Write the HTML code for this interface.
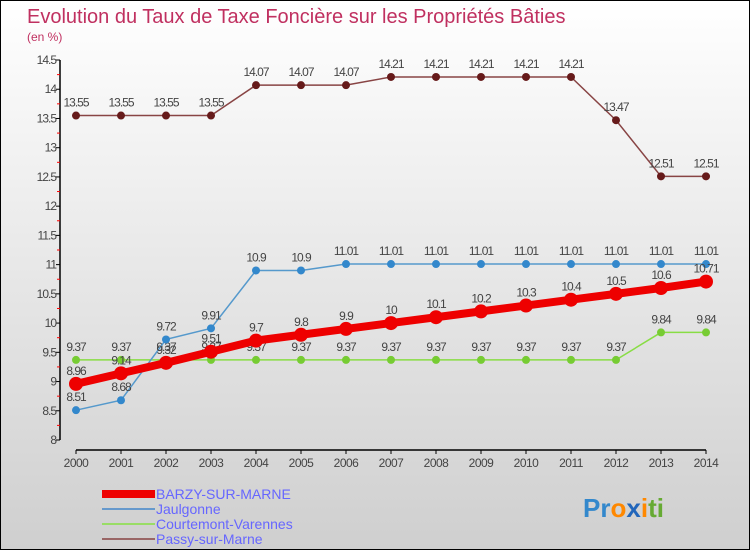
<!DOCTYPE html>
<html><head><meta charset="utf-8"><style>
body{margin:0}
#c{width:750px;height:550px;position:relative;box-sizing:border-box;border:1px solid #000;background:linear-gradient(#ffffff,#cfcfcf);font-family:"Liberation Sans",sans-serif;overflow:hidden}
</style></head><body>
<div id="c">
<svg id="s" width="748" height="548" style="position:absolute;left:0;top:0">
<text x="26" y="22" font-size="20" fill="#c03060">Evolution du Taux de Taxe Foncière sur les Propriétés Bâties</text>
<text x="26" y="40" font-size="12" fill="#c03060">(en %)</text>
<g id="axes"></g><g id="series"></g>
<g>
<rect x="101" y="489" width="53" height="8" fill="#ee0000"/>
<text x="155" y="498" font-size="14" fill="#6666ff">BARZY-SUR-MARNE</text>
<line x1="101" y1="508" x2="154" y2="508" stroke="#6699cc" stroke-width="2"/>
<text x="155" y="513" font-size="14" fill="#6666ff">Jaulgonne</text>
<line x1="101" y1="523" x2="154" y2="523" stroke="#99dd66" stroke-width="2"/>
<text x="155" y="528" font-size="14" fill="#6666ff">Courtemont-Varennes</text>
<line x1="101" y1="538" x2="154" y2="538" stroke="#996666" stroke-width="2"/>
<text x="155" y="543" font-size="14" fill="#6666ff">Passy-sur-Marne</text>
</g>
<text x="582" y="516" font-size="26" font-weight="bold"><tspan fill="#3388cc">Pr</tspan><tspan fill="#ff8800">o</tspan><tspan fill="#2266bb">x</tspan><tspan fill="#ff8800">i</tspan><tspan fill="#66aa33">ti</tspan></text>
</svg>
</div>
<script>
const years=[2000,2001,2002,2003,2004,2005,2006,2007,2008,2009,2010,2011,2012,2013,2014];
const barzy=[8.96,9.14,9.32,9.51,9.7,9.8,9.9,10,10.1,10.2,10.3,10.4,10.5,10.6,10.71];
const jaulgonne=[8.51,8.68,9.72,9.91,10.9,10.9,11.01,11.01,11.01,11.01,11.01,11.01,11.01,11.01,11.01];
const courtemont=[9.37,9.37,9.37,9.37,9.37,9.37,9.37,9.37,9.37,9.37,9.37,9.37,9.37,9.84,9.84];
const passy=[13.55,13.55,13.55,13.55,14.07,14.07,14.07,14.21,14.21,14.21,14.21,14.21,13.47,12.51,12.51];
const yTicks=[8,8.5,9,9.5,10,10.5,11,11.5,12,12.5,13,13.5,14,14.5];
const NS="http://www.w3.org/2000/svg";
const xs=i=>75+i*45;
const ys=v=>439-(v-8)*58.46;
function mk(t,a,p){const e=document.createElementNS(NS,t);for(const k in a)e.setAttribute(k,a[k]);p.appendChild(e);return e;}
const ax=document.getElementById('axes'),se=document.getElementById('series');
let l=mk('line',{x1:59,y1:ys(14.5),x2:59,y2:ys(8),stroke:'#000','stroke-width':1.5},ax);


l=mk('line',{x1:xs(0),y1:449,x2:xs(years.length-1),y2:449,stroke:'#000','stroke-width':1.5},ax);


yTicks.forEach((v,i)=>{
 mk('line',{x1:55,y1:ys(v),x2:59,y2:ys(v),stroke:'#000'},ax);
 if(i<yTicks.length-1)mk('line',{x1:56,y1:ys(v+0.25),x2:59,y2:ys(v+0.25),stroke:'#ff0000'},ax);
 const t=mk('text',{x:55,y:ys(v)+4,'font-size':12,fill:'#444','text-anchor':'end','letter-spacing':'-1'},ax);
 t.textContent=String(v);
 
 
});
years.forEach((y,i)=>{
 mk('line',{x1:xs(i),y1:449,x2:xs(i),y2:453,stroke:'#000'},ax);
 const t=mk('text',{x:xs(i),y:466,'font-size':12,fill:'#444','text-anchor':'middle','letter-spacing':'-0.5'},ax);
 t.textContent=y;
 
 
});
function draw(name,data,color,w,r,dot){
 const g=mk('g',{},se);
 
 
 const p=mk('polyline',{points:data.map((v,i)=>xs(i)+','+ys(v)).join(' '),fill:'none',stroke:color,'stroke-width':w},g);
 
 
 data.forEach((v,i)=>{
  const c=mk('circle',{cx:xs(i),cy:ys(v),r:r,fill:dot},g);
  
  
  const t=mk('text',{x:xs(i),y:ys(v)-9,'font-size':12,fill:'#444','text-anchor':'middle','letter-spacing':'-1'},g);
  t.textContent=String(v);
  
  
 });
}
draw('passy',passy,'#884444',1.5,4,'#661a1a');
draw('courtemont',courtemont,'#88dd44',1.5,4,'#77cc33');
draw('jaulgonne',jaulgonne,'#5599cc',1.5,4,'#3388cc');
draw('barzy',barzy,'#ee0000',8,7,'#ee0000');
</script>
</body></html>
